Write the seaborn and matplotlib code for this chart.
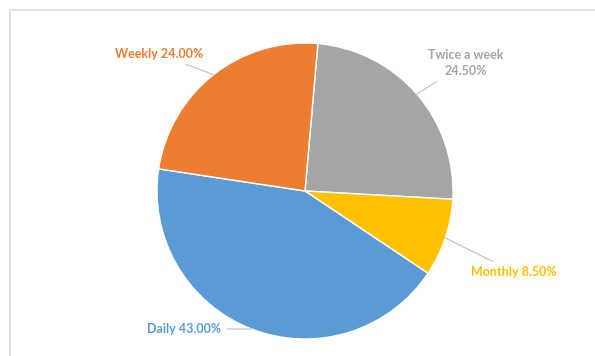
import numpy as np
import matplotlib
matplotlib.use("Agg")
import matplotlib.pyplot as plt
import seaborn as sns
from matplotlib.patches import Rectangle

# Data (clockwise from top)
categories = ["Twice a week", "Monthly", "Daily", "Weekly"]
values = [24.5, 8.5, 43.0, 24.0]
label_texts = ["Twice a week\n24.50%", "Monthly 8.50%", "Daily 43.00%", "Weekly 24.00%"]
colors = ["#A5A5A5", "#FFC000", "#5B9BD5", "#ED7D31"]

sns.set_theme(style="white")
plt.rcParams['font.family'] = ['Lato', 'DejaVu Sans']

W, H = 595, 356
fig = plt.figure(figsize=(W / 100, H / 100), dpi=100)
ax = fig.add_axes([0, 0, 1, 1])

# chart border (light gray)
fig.patches.append(Rectangle((10 / W, -0.1), 1.2, (H - 10) / H + 0.1, transform=fig.transFigure,
                             fill=False, edgecolor="#d9d9d9", linewidth=1.2, zorder=0))

cx, cy, r = 305, H - 191, 148
wedges, _ = ax.pie(values, colors=colors, startangle=85, counterclock=False,
                   center=(cx, cy), radius=r, frame=True,
                   wedgeprops=dict(edgecolor="white", linewidth=1))
ax.set_xlim(0, W)
ax.set_ylim(0, H)
ax.set_aspect('equal')
ax.axis('off')

# label positions (pixel coords, y from top) and alignment
label_pos = [(466, 63), (471, 272), (221, 329), (203, 54)]
label_ha = ["center", "left", "right", "right"]
text_cols = ["#A5A5A5", "#FFC000", "#5B9BD5", "#ED7D31"]
for w, txt, (lx, ly), ha, col in zip(wedges, label_texts, label_pos, label_ha, text_cols):
    ang = np.deg2rad((w.theta1 + w.theta2) / 2)
    px = cx + r * np.cos(ang)
    py = cy + r * np.sin(ang)
    ax.annotate(txt, xy=(px, py), xytext=(lx, H - ly), ha=ha, va="center",
                fontsize=9, fontweight="bold", color=col, linespacing=1.35,
                arrowprops=dict(arrowstyle="-", color="#bfbfbf", lw=0.8,
                                shrinkA=2, shrinkB=0))

fig.savefig("out.png", dpi=100)
